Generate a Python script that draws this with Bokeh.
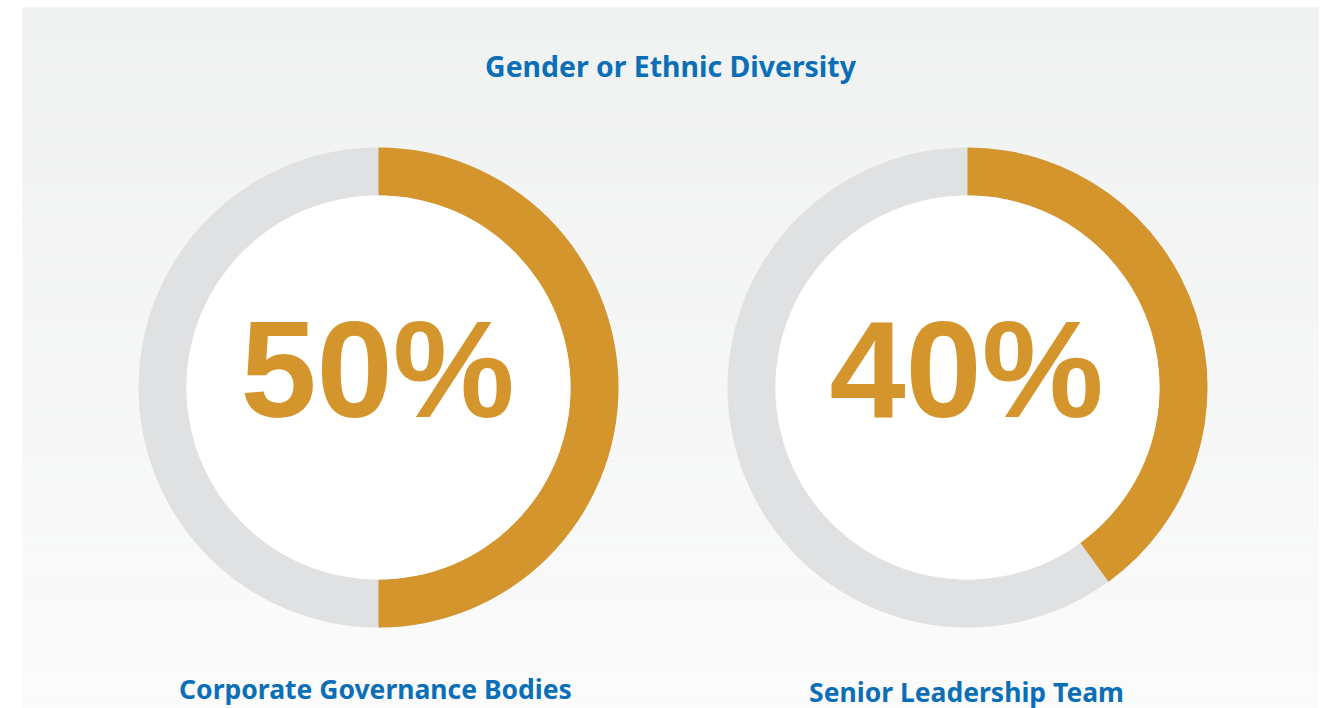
import numpy as np
from bokeh.plotting import figure
from bokeh.models import Range1d
from bokeh.core.properties import value
from bokeh.embed import file_html
from bokeh.resources import INLINE

# ---- data ----
title = "Gender or Ethnic Diversity"
categories = ["Corporate Governance Bodies", "Senior Leadership Team"]
percent_values = [50, 40]

W, H = 1325, 708
ORANGE = "#d4952d"
GRAY = "#e0e1e2"
BLUE = "#0b6fb8"

p = figure(width=W, height=H, output_backend="svg", toolbar_location=None,
           x_range=Range1d(0, W), y_range=Range1d(0, H), min_border=0)
p.axis.visible = False
p.grid.visible = False
p.outline_line_color = None
p.background_fill_color = "white"
p.border_fill_color = "white"

# panel gradient background
panel_left, panel_right, panel_top, panel_bottom = 22, 1318, 7, 708
n = 60
edges = np.linspace(panel_top, panel_bottom, n + 1)
top_rgb = np.array([240, 241, 241])
bot_rgb = np.array([251, 251, 251])
cols = []
for i in range(n):
    t = i / (n - 1)
    c = (top_rgb + (bot_rgb - top_rgb) * t).round().astype(int)
    cols.append("#%02x%02x%02x" % tuple(c))
p.quad(left=panel_left, right=panel_right,
       top=[H - e for e in edges[:-1]], bottom=[H - e for e in edges[1:]],
       fill_color=cols, line_color=cols, line_width=0.5)

centers_x = [378, 967]
cy = H - 387
r_out, r_in = 240, 192

for cx, cat, val in zip(centers_x, categories, percent_values):
    frac = val / 100.0
    p.annular_wedge(x=[cx], y=[cy], inner_radius=r_in, outer_radius=r_out,
                    start_angle=0, end_angle=2 * np.pi,
                    fill_color=GRAY, line_color=None)
    p.annular_wedge(x=[cx], y=[cy], inner_radius=r_in, outer_radius=r_out,
                    start_angle=np.pi / 2 - frac * 2 * np.pi, end_angle=np.pi / 2,
                    fill_color=ORANGE, line_color=None)
    p.circle(x=[cx], y=[cy], radius=r_in, fill_color="white", line_color=None)
    p.text(x=[cx - 1], y=[H - 369], text=[f"{val}%"], text_align="center",
           text_baseline="middle", text_font=value("Liberation Sans"),
           text_font_style="bold", text_font_size="137px", text_color=ORANGE)

p.text(x=[375, 966], y=[H - 688, H - 691], text=categories, text_align="center",
       text_baseline="middle", text_font=value("Noto Sans"), text_font_style="bold",
       text_font_size="26.5px", text_color=BLUE)

p.text(x=[670], y=[H - 65], text=[title], text_align="center",
       text_baseline="middle", text_font=value("Noto Sans"), text_font_style="bold",
       text_font_size="28.4px", text_color=BLUE)

open("out.html", "w").write(file_html(p, INLINE))
